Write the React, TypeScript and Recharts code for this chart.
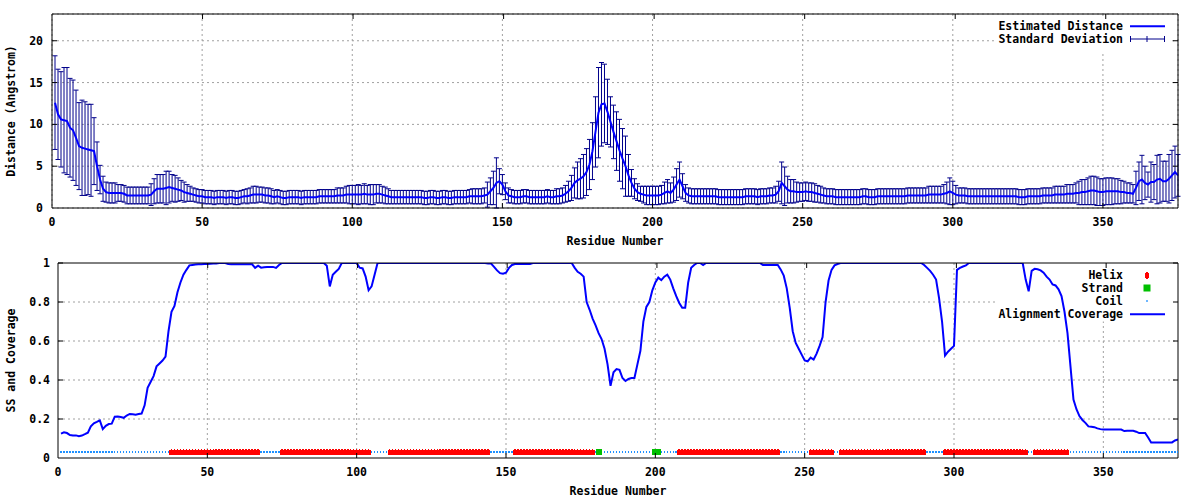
import React from 'react';
import {
  ComposedChart,
  Line,
  XAxis,
  YAxis,
  CartesianGrid,
  ErrorBar,
  Scatter,
  Legend,
  ReferenceLine,
} from 'recharts';

// ---------- data ----------
const distance = [
  12.6, 11.2, 10.6, 10.5, 10.4, 9.6, 9.3, 8.4, 7.4, 7.2,
  7.1, 7.0, 6.9, 6.8, 5.0, 3.4, 2.3, 1.9, 1.8, 1.8,
  1.8, 1.8, 1.8, 1.7, 1.5, 1.5, 1.5, 1.5, 1.5, 1.5,
  1.5, 1.5, 1.6, 2.0, 2.3, 2.3, 2.3, 2.4, 2.5, 2.4,
  2.3, 2.2, 2.1, 1.9, 1.8, 1.7, 1.6, 1.5, 1.4, 1.4,
  1.3, 1.3, 1.3, 1.2, 1.3, 1.3, 1.3, 1.2, 1.3, 1.3,
  1.2, 1.2, 1.3, 1.4, 1.4, 1.5, 1.6, 1.6, 1.6, 1.6,
  1.5, 1.5, 1.4, 1.3, 1.4, 1.3, 1.2, 1.2, 1.3, 1.3,
  1.3, 1.3, 1.2, 1.3, 1.3, 1.3, 1.3, 1.3, 1.4, 1.4,
  1.4, 1.4, 1.4, 1.4, 1.5, 1.5, 1.5, 1.6, 1.6, 1.6,
  1.6, 1.6, 1.6, 1.7, 1.6, 1.6, 1.6, 1.7, 1.7, 1.6,
  1.5, 1.4, 1.3, 1.3, 1.3, 1.3, 1.3, 1.3, 1.3, 1.3,
  1.3, 1.3, 1.3, 1.2, 1.2, 1.3, 1.3, 1.2, 1.2, 1.3,
  1.3, 1.2, 1.2, 1.3, 1.3, 1.3, 1.3, 1.3, 1.4, 1.4,
  1.4, 1.4, 1.4, 1.5, 1.6, 2.0, 2.4, 3.0, 3.2, 2.8,
  2.0, 1.5, 1.4, 1.3, 1.3, 1.3, 1.4, 1.4, 1.3, 1.3,
  1.3, 1.3, 1.3, 1.3, 1.4, 1.3, 1.3, 1.4, 1.4, 1.5,
  1.7, 2.0, 2.4, 3.0, 3.3, 3.5, 3.8, 4.3, 5.2, 6.8,
  9.1, 11.4, 12.4, 12.5, 11.5, 10.3, 9.1, 8.0, 6.9, 5.9,
  5.0, 3.9, 3.0, 2.3, 1.9, 1.7, 1.6, 1.5, 1.5, 1.5,
  1.5, 1.5, 1.6, 1.8, 2.0, 1.8, 2.2, 2.8, 3.4, 2.6,
  1.8, 1.5, 1.4, 1.4, 1.4, 1.4, 1.4, 1.4, 1.4, 1.4,
  1.4, 1.3, 1.3, 1.3, 1.3, 1.3, 1.3, 1.3, 1.3, 1.3,
  1.4, 1.4, 1.4, 1.4, 1.3, 1.4, 1.4, 1.4, 1.5, 1.5,
  1.6, 2.0, 3.0, 2.6, 2.2, 2.0, 2.0, 1.9, 1.9, 1.9,
  2.0, 1.9, 1.9, 1.8, 1.7, 1.6, 1.5, 1.4, 1.4, 1.4,
  1.3, 1.3, 1.3, 1.3, 1.3, 1.3, 1.3, 1.3, 1.3, 1.4,
  1.4, 1.3, 1.3, 1.3, 1.4, 1.4, 1.4, 1.4, 1.4, 1.4,
  1.4, 1.4, 1.4, 1.4, 1.5, 1.5, 1.5, 1.5, 1.5, 1.5,
  1.5, 1.6, 1.6, 1.6, 1.6, 1.6, 1.7, 1.8, 2.0, 1.8,
  1.6, 1.5, 1.5, 1.5, 1.4, 1.4, 1.4, 1.4, 1.4, 1.4,
  1.4, 1.4, 1.4, 1.4, 1.4, 1.4, 1.4, 1.4, 1.4, 1.4,
  1.4, 1.3, 1.3, 1.3, 1.4, 1.4, 1.4, 1.4, 1.4, 1.5,
  1.5, 1.5, 1.5, 1.6, 1.6, 1.6, 1.6, 1.7, 1.7, 1.7,
  1.8, 1.8, 1.9, 1.9, 2.0, 2.1, 2.1, 2.0, 1.9, 1.9,
  2.0, 2.0, 2.0, 2.0, 2.0, 1.9, 1.9, 1.8, 1.8, 1.7,
  2.4, 3.2, 3.4, 3.0, 2.8, 3.1, 3.1, 3.4, 3.5, 3.2,
  3.2, 3.5, 3.9, 4.3, 3.9,
];

const stdDev = [
  5.6, 5.4, 5.7, 6.3, 6.4, 5.9, 6.0, 5.7, 5.2, 5.7,
  5.6, 5.4, 5.5, 4.0, 2.9, 1.7, 1.5, 1.2, 1.2, 1.2,
  1.2, 1.0, 1.0, 1.0, 1.0, 1.0, 1.0, 1.0, 1.0, 1.0,
  1.0, 1.0, 1.3, 1.5, 1.7, 1.7, 1.7, 2.0, 1.9, 1.6,
  1.6, 1.4, 1.2, 1.2, 1.0, 0.9, 0.8, 0.8, 0.8, 0.8,
  0.8, 0.8, 0.8, 0.8, 0.8, 0.8, 0.8, 0.8, 0.8, 0.8,
  0.8, 0.8, 0.8, 0.8, 0.9, 0.9, 1.0, 1.0, 0.9, 0.9,
  0.9, 0.9, 0.9, 0.8, 0.8, 0.8, 0.8, 0.8, 0.8, 0.8,
  0.8, 0.8, 0.8, 0.8, 0.8, 0.8, 0.8, 0.8, 0.8, 0.8,
  0.8, 0.8, 0.8, 0.8, 0.9, 0.9, 0.9, 1.0, 1.1, 1.1,
  1.1, 1.2, 1.1, 1.2, 1.1, 1.2, 1.2, 1.1, 1.1, 1.0,
  1.0, 0.9, 0.8, 0.8, 0.8, 0.8, 0.8, 0.8, 0.8, 0.8,
  0.8, 0.8, 0.8, 0.8, 0.8, 0.8, 0.8, 0.8, 0.8, 0.8,
  0.8, 0.8, 0.8, 0.8, 0.8, 0.8, 0.8, 0.8, 0.8, 0.9,
  0.9, 0.9, 0.9, 0.9, 1.5, 1.6, 2.0, 3.0, 1.5, 1.2,
  1.0, 0.9, 0.8, 0.8, 0.8, 0.8, 0.8, 0.8, 0.8, 0.8,
  0.8, 0.8, 0.8, 0.8, 0.8, 0.8, 0.8, 0.9, 0.9, 0.9,
  1.0, 1.2, 1.5, 1.8, 2.2, 2.4, 2.6, 2.8, 3.0, 3.4,
  4.2, 5.4, 5.0, 4.7, 3.9, 3.0, 3.2, 3.5, 3.7, 3.6,
  3.6, 2.5, 1.6, 1.2, 1.0, 0.9, 1.0, 1.1, 1.1, 1.1,
  1.1, 1.1, 1.1, 1.3, 1.4, 1.2, 1.5, 1.9, 2.1, 1.5,
  1.0, 0.9, 0.9, 0.9, 0.9, 0.9, 0.9, 0.9, 0.9, 0.9,
  0.9, 0.9, 0.9, 0.9, 0.9, 0.9, 0.9, 0.9, 0.9, 0.9,
  0.9, 0.9, 0.9, 0.9, 0.9, 0.9, 0.9, 0.9, 0.9, 0.9,
  1.0, 1.2, 2.5, 2.3, 1.6, 1.4, 1.4, 1.2, 1.1, 1.1,
  1.1, 1.1, 1.1, 1.1, 1.0, 1.0, 0.9, 0.9, 0.9, 0.9,
  0.9, 0.9, 0.9, 0.9, 0.9, 0.9, 0.9, 0.9, 0.9, 0.9,
  0.9, 0.9, 0.9, 0.9, 0.9, 0.9, 0.9, 0.9, 0.9, 0.9,
  0.9, 0.9, 0.9, 0.9, 0.9, 0.9, 0.9, 0.9, 0.9, 0.9,
  0.9, 1.0, 1.0, 1.0, 1.0, 1.0, 1.1, 1.3, 1.6, 1.4,
  1.1, 0.9, 0.9, 0.9, 0.9, 0.9, 0.9, 0.9, 0.9, 0.9,
  0.9, 0.9, 0.9, 0.9, 0.9, 0.9, 0.9, 0.9, 0.9, 0.9,
  0.9, 0.9, 0.9, 0.9, 0.9, 0.9, 0.9, 0.9, 0.9, 0.9,
  0.9, 0.9, 0.9, 1.0, 1.0, 1.0, 1.0, 1.1, 1.1, 1.1,
  1.2, 1.4, 1.5, 1.5, 1.6, 1.7, 1.7, 1.7, 1.6, 1.6,
  1.6, 1.6, 1.6, 1.5, 1.5, 1.4, 1.3, 1.2, 1.2, 1.1,
  2.0, 2.3, 2.9, 2.0, 1.5, 2.4, 2.1, 2.9, 2.9, 2.4,
  2.4, 2.9, 3.0, 3.1, 2.5,
];

const coverage = [
  0.125, 0.132, 0.128, 0.118, 0.116, 0.116, 0.112, 0.115, 0.122, 0.13,
  0.162, 0.178, 0.185, 0.193, 0.148, 0.165, 0.174, 0.176, 0.212, 0.213,
  0.21, 0.206, 0.218, 0.226, 0.224, 0.222, 0.226, 0.228, 0.27, 0.36,
  0.39, 0.42, 0.47, 0.485, 0.5, 0.52, 0.65, 0.75, 0.78, 0.85,
  0.9, 0.94, 0.965, 0.988, 0.99, 0.992, 0.993, 0.994, 0.995, 0.995,
  0.996, 0.997, 0.998, 1, 1, 1, 0.995, 0.993, 0.993, 0.993,
  0.993, 0.993, 0.993, 0.993, 0.993, 0.975, 0.986, 0.976, 0.978, 0.98,
  0.98, 0.98, 0.975, 0.99, 1, 1, 1, 1, 1, 1,
  1, 1, 1, 1, 1, 1, 1, 1, 1, 0.986,
  0.88, 0.94, 0.955, 0.97, 1, 1, 1, 1, 1, 1,
  0.976, 0.972, 0.93, 0.86, 0.88, 0.94, 1, 1, 1, 1,
  1, 1, 1, 1, 1, 1, 1, 1, 1, 1,
  1, 1, 1, 1, 1, 1, 1, 1, 1, 1,
  1, 1, 1, 1, 1, 1, 1, 1, 1, 1,
  1, 1, 1, 0.997, 0.997, 0.98, 0.962, 0.948, 0.945, 0.95,
  0.975, 0.99, 0.995, 0.995, 0.995, 0.995, 0.995, 0.995, 1, 1,
  1, 1, 1, 1, 1, 1, 1, 1, 1, 1,
  1, 1, 0.975, 0.955, 0.945, 0.93, 0.8, 0.76, 0.715, 0.68,
  0.64, 0.61, 0.56, 0.48, 0.37, 0.44, 0.456, 0.452, 0.41, 0.395,
  0.405, 0.41, 0.41, 0.48, 0.55, 0.7, 0.775, 0.8, 0.86, 0.9,
  0.925, 0.912, 0.93, 0.94, 0.915, 0.87, 0.83, 0.795, 0.77, 0.77,
  0.9, 0.975, 0.99, 1, 1, 0.99, 1, 1, 1, 1,
  1, 1, 1, 1, 1, 1, 1, 1, 1, 1,
  1, 1, 1, 1, 1, 0.99, 0.99, 0.99, 0.99, 0.99,
  0.99, 0.966, 0.935, 0.87, 0.77, 0.65, 0.59, 0.56, 0.53, 0.5,
  0.496, 0.515, 0.505, 0.535, 0.575, 0.62, 0.8, 0.91, 0.965, 0.988,
  0.995, 1, 1, 1, 1, 1, 1, 1, 1, 1,
  1, 1, 1, 1, 1, 1, 1, 1, 1, 1,
  1, 1, 1, 1, 1, 1, 1, 1, 1, 0.99,
  0.975, 0.96, 0.94, 0.915, 0.82, 0.7, 0.525, 0.545, 0.56, 0.575,
  0.965, 0.975, 0.982, 0.988, 1, 1, 1, 1, 1, 1,
  1, 1, 1, 1, 1, 1, 1, 1, 1, 1,
  1, 1, 1, 0.915, 0.855, 0.96, 0.97, 0.968, 0.962, 0.95,
  0.93, 0.915, 0.89, 0.885, 0.865, 0.83, 0.75, 0.64, 0.47, 0.3,
  0.25, 0.215, 0.195, 0.18, 0.162, 0.16, 0.158, 0.152, 0.148, 0.146,
  0.146, 0.146, 0.146, 0.146, 0.146, 0.146, 0.138, 0.14, 0.14, 0.14,
  0.135, 0.128, 0.128, 0.128, 0.105, 0.08, 0.08, 0.08, 0.08, 0.08,
  0.08, 0.08, 0.08, 0.09, 0.095,
];

// secondary structure: residue ranges (inclusive); everything else is coil
const helixRanges: [number, number][] = [
  [38, 67], [75, 104], [111, 144], [153, 179], [208, 241],
  [252, 259], [262, 290], [297, 324], [327, 338],
];
const strandRanges: [number, number][] = [[181, 181], [200, 201]];
const ssLevel = 0.03;

const xTicks = [0, 50, 100, 150, 200, 250, 300, 350];
const xDomain: [number, number] = [0, 375];
const distTicks = [0, 5, 10, 15, 20];
const distDomain: [number, number] = [0, 23.2];
const covTicks = [0, 0.2, 0.4, 0.6, 0.8, 1];
const covDomain: [number, number] = [0, 1];

// ---------- derived tables ----------
const distRows = distance.map((d, i) => ({ res: i + 1, dist: d, sd: stdDev[i] }));
const covRows = coverage.map((c, i) => ({ res: i + 1, cov: c }));
const inRanges = (r: number, ranges: [number, number][]) =>
  ranges.some(([a, b]) => r >= a && r <= b);
const helixPts = covRows
  .filter((d) => inRanges(d.res, helixRanges))
  .map((d) => ({ res: d.res, ss: ssLevel }));
const strandPts = covRows
  .filter((d) => inRanges(d.res, strandRanges))
  .map((d) => ({ res: d.res, ss: ssLevel }));
const coilPts = covRows
  .filter((d) => !inRanges(d.res, helixRanges) && !inRanges(d.res, strandRanges))
  .map((d) => ({ res: d.res, ss: ssLevel }));

// ---------- styles ----------
const FONT = '"DejaVu Sans Mono", "Liberation Mono", monospace';
const textStyle = {
  fontFamily: FONT,
  fontSize: 11.5,
  fontWeight: 700 as const,
  fill: '#000',
};
const GRID = '#a0a0a0';
const LINE_BLUE = '#0000ff';
const ERR_BLUE = '#00008b';
const HELIX_RED = '#ff0000';
const STRAND_GREEN = '#00c000';
const COIL_BLUE = '#1e90ff';
const TICK_LEN = 5;

// ---------- ticks ----------
const BottomTick = (props: any) => {
  const { x, y, payload } = props;
  return (
    <g>
      {payload.value !== 0 && (
        <line x1={x} y1={y} x2={x} y2={y - TICK_LEN} stroke="#000" strokeWidth={1} />
      )}
      <text x={x} y={y + 18} textAnchor="middle" style={textStyle}>
        {payload.value}
      </text>
    </g>
  );
};
const TopTick = (props: any) => {
  const { x, y, payload } = props;
  if (payload.value === 0) return <g />;
  return <line x1={x} y1={y} x2={x} y2={y + TICK_LEN} stroke="#000" strokeWidth={1} />;
};
const makeLeftTick = (gap: number) => (props: any) => {
  const { x, y, payload } = props;
  return (
    <g>
      {payload.value !== 0 && (
        <line x1={x} y1={y} x2={x + TICK_LEN} y2={y} stroke="#000" strokeWidth={1} />
      )}
      <text x={x - gap} y={y + 4} textAnchor="end" style={textStyle}>
        {payload.value}
      </text>
    </g>
  );
};
const RightTick = (props: any) => {
  const { x, y, payload } = props;
  if (payload.value === 0) return <g />;
  return <line x1={x} y1={y} x2={x - TICK_LEN} y2={y} stroke="#000" strokeWidth={1} />;
};

const xLabel = (text: string) => ({
  content: ({ viewBox }: any) => (
    <text
      x={viewBox.x + viewBox.width / 2}
      y={viewBox.y + 37}
      textAnchor="middle"
      style={textStyle}
    >
      {text}
    </text>
  ),
});
const yLabel = (text: string) => ({
  content: ({ viewBox }: any) => {
    const cx = 15;
    const cy = viewBox.y + viewBox.height / 2;
    return (
      <text
        x={cx}
        y={cy}
        textAnchor="middle"
        transform={`rotate(-90, ${cx}, ${cy})`}
        style={textStyle}
      >
        {text}
      </text>
    );
  },
});

// ---------- point shapes ----------
const HelixShape = (p: any) => (
  <g fill={HELIX_RED} shapeRendering="crispEdges">
    <rect x={p.cx - 2} y={p.cy - 2.5} width={4} height={5} />
    <rect x={p.cx - 0.8} y={p.cy - 3.3} width={1.6} height={6.6} />
  </g>
);
const StrandShape = (p: any) => (
  <rect
    x={p.cx - 3}
    y={p.cy - 3}
    width={6}
    height={6}
    fill={STRAND_GREEN}
    shapeRendering="crispEdges"
  />
);
const CoilShape = (p: any) => (
  <rect
    x={p.cx - 0.75}
    y={p.cy - 0.75}
    width={1.5}
    height={1.5}
    fill={COIL_BLUE}
    shapeRendering="crispEdges"
  />
);

// ---------- legends ----------
const TopLegend = () => (
  <svg width={173} height={33} style={{ display: 'block', background: '#fff' }}>
    <text x={126} y={11.3} textAnchor="end" style={textStyle}>
      Estimated Distance
    </text>
    <line x1={133} x2={168} y1={7.3} y2={7.3} stroke={LINE_BLUE} strokeWidth={2} />
    <text x={126} y={24} textAnchor="end" style={textStyle}>
      Standard Deviation
    </text>
    <g stroke={ERR_BLUE} strokeWidth={1}>
      <line x1={133} x2={168} y1={20} y2={20} />
      <line x1={133.5} x2={133.5} y1={17} y2={23} />
      <line x1={150} x2={150} y1={17} y2={23} />
      <line x1={167.5} x2={167.5} y1={17} y2={23} />
    </g>
  </svg>
);
const BottomLegend = () => (
  <svg width={190} height={62} style={{ display: 'block' }}>
    <text x={133} y={17.3} textAnchor="end" style={textStyle}>Helix</text>
    <HelixShape cx={157} cy={13.3} />
    <text x={133} y={29.7} textAnchor="end" style={textStyle}>Strand</text>
    <rect x={153.5} y={22.5} width={7} height={7} fill={STRAND_GREEN} />
    <text x={133} y={43} textAnchor="end" style={textStyle}>Coil</text>
    <rect x={156.2} y={38.2} width={1.6} height={1.6} fill={COIL_BLUE} />
    <text x={133} y={56.3} textAnchor="end" style={textStyle}>Alignment Coverage</text>
    <line x1={140} x2={175} y1={52.3} y2={52.3} stroke={LINE_BLUE} strokeWidth={2} />
  </svg>
);

export default function App() {
  return (
    <div
      style={{
        position: 'absolute',
        left: 0,
        top: 0,
        width: 1200,
        height: 500,
        background: '#fff',
      }}
    >
      {/* ---------- top panel: distance ---------- */}
      <div style={{ position: 'absolute', left: 0, top: 0 }}>
        <ComposedChart
          width={1200}
          height={250}
          data={distRows}
          margin={{ top: 13, right: 21, bottom: 0, left: 0 }}
        >
          <CartesianGrid stroke={GRID} strokeDasharray="2 3" />
          <XAxis
            dataKey="res"
            type="number"
            domain={xDomain}
            ticks={xTicks}
            interval={0}
            height={42}
            tickSize={0}
            tickMargin={0}
            tickLine={false}
            axisLine={{ stroke: '#000' }}
            tick={(p: any) => <BottomTick {...p} />}
            label={xLabel('Residue Number')}
            allowDataOverflow
          />
          <XAxis
            xAxisId="top"
            orientation="top"
            type="number"
            domain={xDomain}
            ticks={xTicks}
            interval={0}
            height={1}
            tickSize={0}
            tickMargin={0}
            tickLine={false}
            axisLine={{ stroke: '#000' }}
            tick={(p: any) => <TopTick {...p} />}
            allowDataOverflow
          />
          <YAxis
            type="number"
            domain={distDomain}
            ticks={distTicks}
            interval={0}
            width={52}
            tickSize={0}
            tickMargin={0}
            tickLine={false}
            axisLine={{ stroke: '#000' }}
            tick={makeLeftTick(9)}
            label={yLabel('Distance (Angstrom)')}
            allowDataOverflow
          />
          <YAxis
            yAxisId="right"
            orientation="right"
            type="number"
            domain={distDomain}
            ticks={distTicks}
            interval={0}
            width={1}
            tickSize={0}
            tickMargin={0}
            tickLine={false}
            axisLine={{ stroke: '#000' }}
            tick={(p: any) => <RightTick {...p} />}
            allowDataOverflow
          />
          <Line
            dataKey="dist"
            stroke="none"
            dot={false}
            activeDot={false}
            isAnimationActive={false}
            legendType="none"
          >
            <ErrorBar
              dataKey="sd"
              width={2.5}
              stroke={ERR_BLUE}
              strokeWidth={1}
              isAnimationActive={false}
            />
          </Line>
          <Line
            dataKey="dist"
            type="linear"
            stroke={LINE_BLUE}
            strokeWidth={2}
            dot={false}
            activeDot={false}
            isAnimationActive={false}
          />
          <Legend
            layout="vertical"
            align="center"
            verticalAlign="middle"
            content={() => <TopLegend />}
            wrapperStyle={{ left: 997, top: 19, width: 173, height: 33 }}
          />
        </ComposedChart>
      </div>

      {/* ---------- bottom panel: SS and coverage ---------- */}
      <div style={{ position: 'absolute', left: 0, top: 250 }}>
        <ComposedChart
          width={1200}
          height={250}
          data={covRows}
          margin={{ top: 12, right: 21, bottom: 0, left: 0 }}
        >
          <CartesianGrid
            stroke={GRID}
            strokeDasharray="2 3"
            horizontalValues={[0.2, 0.4, 0.6]}
            verticalValues={[50, 100, 150, 200, 250, 300]}
          />
          <ReferenceLine
            segment={[{ x: 0, y: 0.8 }, { x: 314.7, y: 0.8 }]}
            stroke={GRID}
            strokeDasharray="2 3"
          />
          <ReferenceLine
            segment={[{ x: 350, y: 0 }, { x: 350, y: 0.7 }]}
            stroke={GRID}
            strokeDasharray="2 3"
          />
          <XAxis
            dataKey="res"
            type="number"
            domain={xDomain}
            ticks={xTicks}
            interval={0}
            height={42}
            tickSize={0}
            tickMargin={0}
            tickLine={false}
            axisLine={{ stroke: '#000' }}
            tick={(p: any) => <BottomTick {...p} />}
            label={xLabel('Residue Number')}
            allowDataOverflow
          />
          <XAxis
            xAxisId="top"
            orientation="top"
            type="number"
            domain={xDomain}
            ticks={xTicks}
            interval={0}
            height={1}
            tickSize={0}
            tickMargin={0}
            tickLine={false}
            axisLine={{ stroke: '#000' }}
            tick={(p: any) => <TopTick {...p} />}
            allowDataOverflow
          />
          <YAxis
            type="number"
            domain={covDomain}
            ticks={covTicks}
            interval={0}
            width={58}
            tickSize={0}
            tickMargin={0}
            tickLine={false}
            axisLine={{ stroke: '#000' }}
            tick={makeLeftTick(8)}
            label={yLabel('SS and Coverage')}
            allowDataOverflow
          />
          <YAxis
            yAxisId="right"
            orientation="right"
            type="number"
            domain={covDomain}
            ticks={covTicks}
            interval={0}
            width={1}
            tickSize={0}
            tickMargin={0}
            tickLine={false}
            axisLine={{ stroke: '#000' }}
            tick={(p: any) => <RightTick {...p} />}
            allowDataOverflow
          />
          <Scatter
            data={coilPts}
            dataKey="ss"
            shape={(p: any) => <CoilShape {...p} />}
            isAnimationActive={false}
          />
          <Scatter
            data={helixPts}
            dataKey="ss"
            shape={(p: any) => <HelixShape {...p} />}
            isAnimationActive={false}
          />
          <Scatter
            data={strandPts}
            dataKey="ss"
            shape={(p: any) => <StrandShape {...p} />}
            isAnimationActive={false}
          />
          <Line
            dataKey="cov"
            type="linear"
            stroke={LINE_BLUE}
            strokeWidth={2}
            dot={false}
            activeDot={false}
            isAnimationActive={false}
          />
          <Legend
            layout="vertical"
            align="center"
            verticalAlign="middle"
            content={() => <BottomLegend />}
            wrapperStyle={{ left: 990, top: 12, width: 190, height: 62 }}
          />
        </ComposedChart>
      </div>
    </div>
  );
}
